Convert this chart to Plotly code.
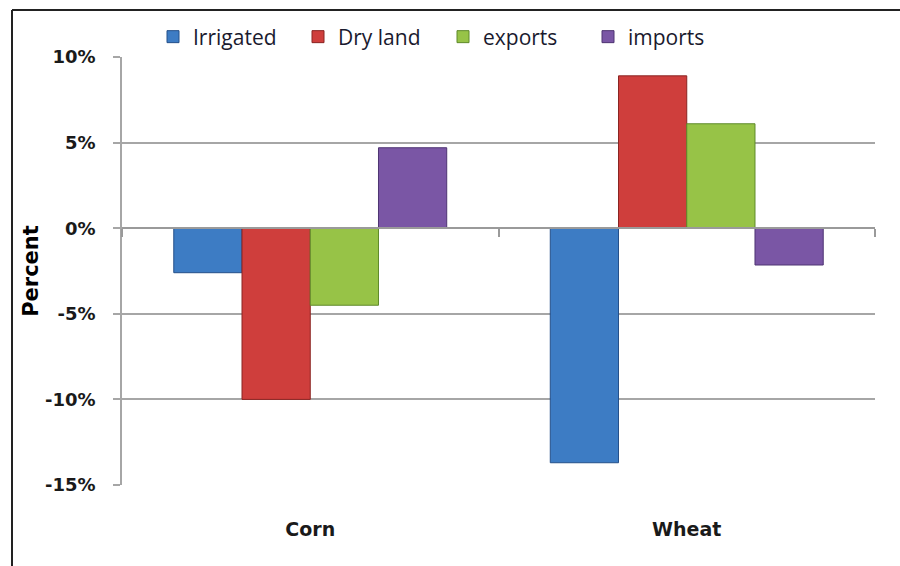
import plotly.graph_objects as go

categories = ["Corn", "Wheat"]
series_names = ["Irrigated", "Dry land", "exports", "imports"]
irrigated = [-2.6, -13.7]
dry_land = [-10.0, 8.9]
exports = [-4.5, 6.1]
imports = [4.7, -2.15]
series_values = [irrigated, dry_land, exports, imports]
y_tick_values = [-15, -10, -5, 0, 5, 10]
y_tick_labels = ["-15%", "-10%", "-5%", "0%", "5%", "10%"]

fills = ["#3d7cc4", "#cf3e3c", "#97c347", "#7a56a5"]
edges = ["#25508a", "#8a2422", "#5f8a2a", "#4e3472"]

fig = go.Figure()
for name, vals, fc, ec in zip(series_names, series_values, fills, edges):
    fig.add_trace(go.Bar(
        x=categories, y=vals, name=name,
        marker=dict(color=fc, line=dict(color=ec, width=1)),
    ))

L, R, T, B = 122, 25, 57, 81
W, H = 900, 566
pw = W - L - R
ph = H - T - B

fig.update_layout(
    width=W, height=H,
    margin=dict(l=L, r=R, t=T, b=B),
    paper_bgcolor="white", plot_bgcolor="white",
    barmode="group", bargap=0.275, bargroupgap=0,
    font=dict(family="Open Sans", color="#1a1a1a"),
    showlegend=True,
    legend=dict(
        orientation="h", x=(153 - L) / pw, xanchor="left",
        y=(H - B - 37) / ph, yanchor="middle",
        font=dict(size=21, family="Open Sans", color="#1a1a2e"),
        entrywidth=100, entrywidthmode="pixels",
        bgcolor="rgba(0,0,0,0)",
    ),
    xaxis=dict(
        type="category", anchor="free", position=0.6,
        showline=True, linecolor="#9a9a9a", linewidth=2,
        tickson="boundaries", ticks="outside", ticklen=8, tickcolor="#9a9a9a", tickwidth=2,
        showgrid=False, zeroline=False,
        tickfont=dict(size=19, family="DejaVu Sans", color="#1a1a1a", weight="bold"),
        ticklabelstandoff=284,
    ),
    yaxis=dict(
        range=[-15, 10], tickvals=y_tick_values, ticktext=y_tick_labels,
        showgrid=True, gridcolor="#a6a6a6", gridwidth=1.5,
        showline=True, linecolor="#a6a6a6", linewidth=1.5,
        ticks="outside", ticklen=7, tickcolor="#a6a6a6", tickwidth=1.5,
        zeroline=False,
        tickfont=dict(size=18, family="DejaVu Sans", color="#1a1a1a", weight="bold"),
        ticklabelstandoff=14,
        title=dict(text="Percent", font=dict(size=21, family="DejaVu Sans", color="#000000", weight="bold"), standoff=1),
    ),
    shapes=[
        dict(type="line", xref="paper", yref="paper",
             x0=(12 - L) / pw, x1=(905 - L) / pw,
             y0=(H - B - 10) / ph, y1=(H - B - 10) / ph,
             line=dict(color="#222222", width=2)),
        dict(type="line", xref="paper", yref="paper",
             x0=(12 - L) / pw, x1=(12 - L) / pw,
             y0=(H - B - 10) / ph, y1=(H - B - 575) / ph,
             line=dict(color="#222222", width=2)),
    ],
)

fig.write_html("out.html", config={"displayModeBar": False},
               post_script="document.body.style.margin='0';")
